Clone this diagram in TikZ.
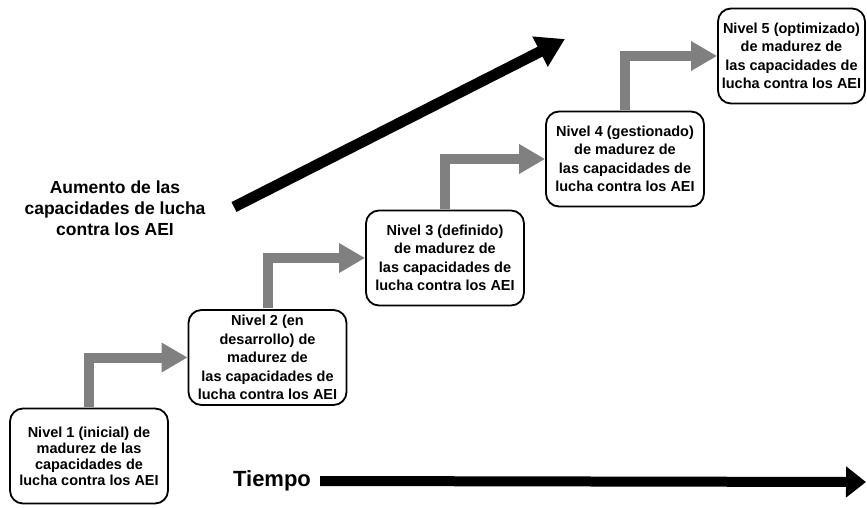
\documentclass[tikz,border=0pt]{standalone}
\usepackage{fontspec}
\setmainfont{Liberation Sans}
\usetikzlibrary{arrows.meta}

\begin{document}
\begin{tikzpicture}
    [
        x=1pt, y=1pt,
        levelbox/.style = {draw, shape=rectangle, rounded corners=13pt, minimum height=95pt, minimum width=158pt, line width=1.8pt, align=center, inner xsep=2pt, inner ysep=1pt, font=\bfseries\fontsize{14.5}{18.5}\selectfont},
        climb/.style = {draw=gray, line width=10pt, shorten <=0.9pt, -{Triangle[length=26pt, width=28pt]}},
        bigarrow/.style = {draw=black, line width=11pt, -{Triangle[length=28pt, width=32pt]}},
        label/.style = {align=center, inner sep=0pt},
    ]

    \useasboundingbox (0,0) rectangle (867,507);

    % maturity levels
    \node[levelbox, font=\bfseries\fontsize{14.5}{16}\selectfont] (1n) at (89,51) {Nivel 1 (inicial) de\\madurez de las\\capacidades de\\lucha contra los AEI};
    \node[levelbox] (2n) at (267.5,149.5) {Nivel 2 (en\\desarrollo) de\\madurez de\\las capacidades de\\lucha contra los AEI};
    \node[levelbox] (3n) at (445,249) {Nivel 3 (definido)\\de madurez de\\las capacidades de\\lucha contra los AEI};
    \node[levelbox] (4n) at (625,348) {Nivel 4 (gestionado)\\de madurez de\\las capacidades de\\lucha contra los AEI};
    \node[levelbox, minimum width=147pt] (5n) at (791.5,451) {Nivel 5 (optimizado)\\de madurez de\\las capacidades de\\lucha contra los AEI};

    \draw[climb] (1n.north) |- (2n.west);
    \draw[climb] (2n.north) |- (3n.west);
    \draw[climb] (3n.north) |- (4n.west);
    \draw[climb] (4n.north) |- (5n.west);

    % axes
    \node[label, font=\bfseries\fontsize{17.5}{21}\selectfont] (cap) at (115,299) {Aumento de las\\capacidades de lucha\\contra los AEI};
    \coordinate (rise0) at (234,300);
    \coordinate (rise1) at (565,468);
    \draw[bigarrow] (rise0) -- (rise1);

    \node[label, font=\bfseries\fontsize{22}{22}\selectfont] (time) at (272,26) {Tiempo};
    \coordinate (tend) at (866,25);
    \draw[bigarrow, line width=10pt, -{Triangle[length=20pt, width=30pt]}] ([xshift=9pt]time.east) -- (tend);
\end{tikzpicture}
\end{document}
